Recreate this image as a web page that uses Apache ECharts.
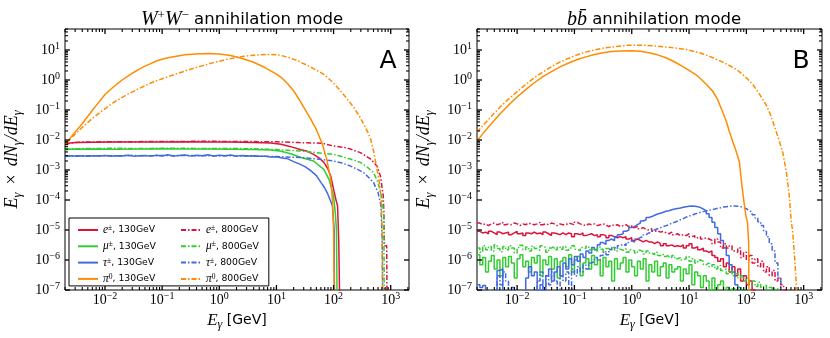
<!DOCTYPE html>
<html><head><meta charset="utf-8">
<script src="https://cdn.jsdelivr.net/npm/echarts@6/dist/echarts.min.js"></script>
<style>html,body{margin:0;padding:0;background:#fff}#c{width:830px;height:338px}</style>
</head><body><div id="c"></div>
<script>
// ---------------- DATA ----------------
// tick exponents (labels are 10^n)
const xTickExps = [-2, -1, 0, 1, 2, 3];
const yTickExps = [-7, -6, -5, -4, -3, -2, -1, 0, 1];

// Panel A: W+W- mode, points [log10(E/GeV), E dN/dE]
const wwE130 = [[-2.70,7.0e-3],[-2.62,7.9e-3],[-2.50,8.3e-3],[-2.2,8.4e-3],[-1.8,8.5e-3],[-1.4,8.6e-3],[-1.0,8.5e-3],[-0.6,8.7e-3],[-0.2,8.6e-3],[0.2,8.6e-3],[0.6,8.3e-3],[0.9,7.9e-3],[1.08,7.2e-3],[1.25,6.0e-3],[1.43,4.7e-3],[1.54,4.2e-3],[1.65,3.3e-3],[1.75,2.5e-3],[1.83,1.8e-3],[1.90,1.1e-3],[1.95,6.3e-4],[2.00,2.3e-4],[2.04,1.05e-4],[2.07,6.3e-5],[2.09,4.9e-6],[2.12,4.9e-6],[2.12,1e-9]];
const wwMu130 = [[-2.70,4.6e-3],[-2.62,4.9e-3],[-2.2,5.0e-3],[-1.8,4.9e-3],[-1.4,5.0e-3],[-1.0,5.1e-3],[-0.6,5.0e-3],[-0.2,5.0e-3],[0.2,4.9e-3],[0.6,4.8e-3],[0.9,4.6e-3],[1.08,4.2e-3],[1.25,3.5e-3],[1.43,2.6e-3],[1.65,2.0e-3],[1.83,1.05e-3],[1.92,4.9e-4],[2.00,1.35e-4],[2.03,3.8e-5],[2.05,1.05e-5],[2.07,1.05e-5],[2.07,1e-9]];
const wwTau130 = [[-2.70,2.8e-3],[-2.6,3.0e-3],[-2.5,2.9e-3],[-2.4,3.0e-3],[-2.3,2.9e-3],[-2.2,3.0e-3],[-2.1,2.95e-3],[-2.0,3.05e-3],[-1.9,2.9e-3],[-1.8,3.0e-3],[-1.7,2.95e-3],[-1.6,3.1e-3],[-1.5,2.9e-3],[-1.4,3.0e-3],[-1.3,3.05e-3],[-1.2,2.9e-3],[-1.1,3.1e-3],[-1.0,2.95e-3],[-0.9,3.2e-3],[-0.8,2.9e-3],[-0.7,3.05e-3],[-0.6,3.15e-3],[-0.5,2.9e-3],[-0.4,3.1e-3],[-0.3,3.0e-3],[-0.2,3.2e-3],[-0.1,2.95e-3],[0.0,3.1e-3],[0.1,3.0e-3],[0.2,3.15e-3],[0.3,2.9e-3],[0.4,3.05e-3],[0.5,2.95e-3],[0.6,3.0e-3],[0.7,2.85e-3],[0.8,2.9e-3],[0.9,2.7e-3],[1.0,2.75e-3],[1.1,2.5e-3],[1.2,2.35e-3],[1.3,1.9e-3],[1.4,1.6e-3],[1.5,1.3e-3],[1.6,9.5e-4],[1.7,6.5e-4],[1.78,3.8e-4],[1.84,2.6e-4],[1.89,1.74e-4],[1.94,1.0e-4],[1.98,6.3e-5],[2.01,1.05e-5],[2.02,1.05e-5],[2.02,1e-9]];
const wwPi130 = [[-2.70,7.0e-3],[-2.55,1.6e-2],[-2.40,3.5e-2],[-2.30,6.2e-2],[-2.20,0.11],[-2.10,0.19],[-2.00,0.33],[-1.90,0.49],[-1.80,0.71],[-1.70,1.0],[-1.60,1.35],[-1.50,1.78],[-1.40,2.3],[-1.30,2.9],[-1.20,3.5],[-1.10,4.3],[-1.00,4.9],[-0.90,5.5],[-0.80,6.0],[-0.60,6.9],[-0.40,7.4],[-0.20,7.6],[0.00,7.3],[0.20,6.6],[0.40,5.2],[0.60,3.9],[0.80,2.6],[1.00,1.58],[1.10,1.15],[1.20,0.74],[1.30,0.44],[1.40,0.22],[1.50,0.105],[1.60,5.0e-2],[1.70,2.2e-2],[1.80,7.6e-3],[1.88,2.3e-3],[1.95,4.9e-4],[1.98,1.0e-4],[2.00,1.0e-5],[2.02,1.0e-5],[2.02,1e-9]];
const wwE800 = [[-2.70,7.0e-3],[-2.60,8.0e-3],[-2.4,8.5e-3],[-2.0,8.7e-3],[-1.5,8.8e-3],[-1.0,8.9e-3],[-0.5,9.0e-3],[0,9.0e-3],[0.5,8.9e-3],[1.0,8.7e-3],[1.4,8.2e-3],[1.8,7.8e-3],[2.0,6.3e-3],[2.24,5.4e-3],[2.47,3.8e-3],[2.65,2.3e-3],[2.76,1.35e-3],[2.82,6.3e-4],[2.87,1.35e-4],[2.88,3.8e-5],[2.89,3.0e-6],[2.93,3.0e-6],[2.94,1e-9]];
const wwMu800 = [[-2.70,4.8e-3],[-2.62,5.1e-3],[-2.2,5.2e-3],[-1.8,5.3e-3],[-1.4,5.2e-3],[-1.0,5.3e-3],[-0.6,5.3e-3],[-0.2,5.2e-3],[0.2,5.2e-3],[0.6,5.1e-3],[1.0,4.8e-3],[1.43,4.3e-3],[1.7,3.8e-3],[2.0,3.3e-3],[2.24,2.5e-3],[2.47,1.8e-3],[2.60,1.2e-3],[2.70,8.1e-4],[2.78,3.8e-4],[2.85,1.05e-4],[2.88,2.95e-5],[2.89,2.95e-5],[2.89,1e-9]];
const wwTau800 = [[-2.70,2.8e-3],[-2.6,2.95e-3],[-2.4,3.0e-3],[-2.2,2.95e-3],[-2.0,3.0e-3],[-1.8,2.95e-3],[-1.6,3.05e-3],[-1.4,3.0e-3],[-1.2,3.0e-3],[-1.0,3.05e-3],[-0.8,3.0e-3],[-0.6,3.05e-3],[-0.4,3.0e-3],[-0.2,3.0e-3],[0.0,3.0e-3],[0.3,2.95e-3],[0.6,2.9e-3],[1.0,2.8e-3],[1.43,2.6e-3],[1.7,2.35e-3],[2.0,2.0e-3],[2.15,1.7e-3],[2.3,1.35e-3],[2.42,1.05e-3],[2.53,8.1e-4],[2.62,5.5e-4],[2.70,3.8e-4],[2.78,1.74e-4],[2.83,6.3e-5],[2.85,4.9e-6],[2.87,4.9e-6],[2.87,1e-9]];
const wwPi800 = [[-2.70,7.0e-3],[-2.55,1.4e-2],[-2.41,2.5e-2],[-2.25,4.7e-2],[-2.06,9.1e-2],[-1.85,0.178],[-1.63,0.316],[-1.40,0.525],[-1.19,0.81],[-1.00,1.1],[-0.76,1.58],[-0.55,2.14],[-0.32,2.9],[-0.10,3.8],[0.12,4.8],[0.40,6.1],[0.60,6.7],[0.84,7.2],[1.05,6.8],[1.20,5.75],[1.37,4.4],[1.60,2.7],[1.83,1.55],[2.00,0.79],[2.12,0.44],[2.24,0.23],[2.36,0.117],[2.45,6.3e-2],[2.53,3.3e-2],[2.60,1.8e-2],[2.65,1.05e-2],[2.70,4.3e-3],[2.76,1.05e-3],[2.80,4.0e-4],[2.83,1.26e-4],[2.85,1.0e-5],[2.86,1.0e-5],[2.86,1e-9]];

// Panel B: b b-bar mode, smooth pi0 curves [log10(E/GeV), E dN/dE]
const bbPi130 = [[-2.70,9.3e-3],[-2.60,1.6e-2],[-2.50,2.7e-2],[-2.40,4.5e-2],[-2.28,8.1e-2],[-2.15,0.145],[-2.00,0.27],[-1.85,0.48],[-1.70,0.81],[-1.55,1.29],[-1.40,1.9],[-1.25,2.75],[-1.11,3.6],[-0.95,4.8],[-0.80,5.9],[-0.65,7.1],[-0.50,8.1],[-0.35,8.9],[-0.20,9.3],[0.00,9.4],[0.15,9.1],[0.30,8.1],[0.45,6.9],[0.60,5.5],[0.76,3.9],[0.90,2.75],[1.00,2.1],[1.11,1.55],[1.20,1.1],[1.30,0.72],[1.41,0.43],[1.50,0.22],[1.58,9.3e-2],[1.65,4.2e-2],[1.70,2.0e-2],[1.76,9.3e-3],[1.82,4.3e-3],[1.88,1.8e-3],[1.91,4.9e-4],[1.96,8.1e-5],[1.99,3.2e-5],[2.02,1.8e-5],[2.04,3.8e-6],[2.05,3.8e-6],[2.05,1e-9]];
const bbPi800 = [[-2.70,1.8e-2],[-2.60,3.0e-2],[-2.50,4.8e-2],[-2.40,7.8e-2],[-2.28,0.135],[-2.15,0.23],[-2.00,0.41],[-1.85,0.71],[-1.70,1.2],[-1.55,1.86],[-1.40,2.75],[-1.25,4.0],[-1.11,5.2],[-0.95,6.9],[-0.80,8.5],[-0.65,10],[-0.50,11.5],[-0.30,12.9],[-0.06,14.3],[0.20,14.5],[0.41,13.6],[0.70,12],[0.94,10.5],[1.20,7.9],[1.41,5.6],[1.62,3.7],[1.82,2.3],[1.97,1.35],[2.11,0.72],[2.22,0.36],[2.34,0.155],[2.42,7.1e-2],[2.50,2.5e-2],[2.57,1.0e-2],[2.64,3.5e-3],[2.70,8.1e-4],[2.75,1.35e-4],[2.78,2.3e-5],[2.81,8.1e-6],[2.84,1.35e-6],[2.87,1.8e-7],[2.88,1.8e-7],[2.88,1e-9]];

// Panel B histograms: bins of 0.05 decade starting at log10(E) = -2.70
const binStartB = -2.70, binWidthB = 0.05;
const bbE800 = [
 1.7e-5,1.5e-5,1.6e-5,1.4e-5,1.6e-5,1.7e-5,1.5e-5,1.6e-5,1.8e-5,1.5e-5,
 1.6e-5,1.5e-5,1.7e-5,1.6e-5,1.4e-5,1.6e-5,1.5e-5,1.7e-5,1.6e-5,1.5e-5,
 1.6e-5,1.8e-5,1.5e-5,1.6e-5,1.5e-5,1.7e-5,1.6e-5,1.4e-5,1.6e-5,1.5e-5,
 1.5e-5,1.7e-5,1.6e-5,1.5e-5,1.8e-5,1.6e-5,1.5e-5,1.4e-5,1.6e-5,1.5e-5,
 1.6e-5,1.4e-5,1.5e-5,1.6e-5,1.5e-5,1.3e-5,1.5e-5,1.4e-5,1.5e-5,1.3e-5,
 1.4e-5,1.5e-5,1.3e-5,1.4e-5,1.2e-5,1.3e-5,1.1e-5,1.2e-5,1.05e-5,1.0e-5,
 1.1e-5,9.0e-6,9.5e-6,8.5e-6,9.0e-6,8.0e-6,7.5e-6,8.5e-6,7.0e-6,7.5e-6,
 6.5e-6,7.0e-6,6.5e-6,7.5e-6,6.0e-6,6.5e-6,5.5e-6,6.0e-6,5.0e-6,5.5e-6,
 5.0e-6,4.5e-6,3.5e-6,5.0e-6,4.0e-6,2.5e-6,3.5e-6,2.5e-6,3.0e-6,2.0e-6,
 1.8e-6,2.5e-6,1.2e-6,1.8e-6,1.0e-6,1.4e-6,8.0e-7,1.1e-6,6.0e-7,9.0e-7,
 4.0e-7,6.0e-7,3.0e-7,4.5e-7,2.0e-7,2.5e-7,1.5e-7,1.0e-7];
const bbE130 = [
 9.0e-6,8.0e-6,8.5e-6,7.5e-6,9.0e-6,8.0e-6,7.0e-6,8.5e-6,7.5e-6,8.0e-6,
 8.5e-6,7.0e-6,8.0e-6,9.0e-6,7.5e-6,8.0e-6,6.5e-6,8.0e-6,7.5e-6,8.5e-6,
 7.5e-6,8.0e-6,7.0e-6,8.5e-6,7.5e-6,6.5e-6,8.0e-6,7.5e-6,7.0e-6,8.0e-6,
 7.0e-6,8.0e-6,7.5e-6,6.0e-6,7.5e-6,7.0e-6,8.0e-6,6.5e-6,7.0e-6,7.5e-6,
 6.5e-6,7.0e-6,6.0e-6,7.0e-6,6.5e-6,5.5e-6,6.5e-6,6.0e-6,5.5e-6,6.0e-6,
 5.5e-6,6.0e-6,5.0e-6,5.5e-6,4.5e-6,5.0e-6,4.5e-6,4.0e-6,4.5e-6,4.0e-6,
 4.0e-6,3.5e-6,4.0e-6,3.5e-6,3.0e-6,3.5e-6,3.0e-6,3.2e-6,2.8e-6,3.0e-6,
 2.8e-6,3.2e-6,2.5e-6,3.0e-6,3.5e-6,2.5e-6,2.8e-6,2.2e-6,2.5e-6,2.0e-6,
 1.8e-6,2.0e-6,1.4e-6,1.2e-6,9.0e-7,1.1e-6,6.0e-7,8.0e-7,4.0e-7,6.0e-7,
 3.0e-7,5.0e-7,2.0e-7,3.0e-7,1.5e-7,2.0e-7,1.0e-7];
const bbMu800 = [
 2.5e-6,1.8e-6,3.0e-6,2.2e-6,2.8e-6,2.0e-6,3.2e-6,2.4e-6,1.9e-6,2.8e-6,
 2.2e-6,3.0e-6,2.5e-6,1.7e-6,2.6e-6,3.1e-6,2.2e-6,2.7e-6,2.0e-6,2.9e-6,
 2.4e-6,2.1e-6,3.0e-6,2.6e-6,1.8e-6,2.5e-6,2.9e-6,2.2e-6,2.7e-6,2.3e-6,
 2.8e-6,2.1e-6,2.5e-6,3.0e-6,2.3e-6,2.0e-6,2.6e-6,2.4e-6,2.9e-6,2.2e-6,
 2.5e-6,2.0e-6,2.7e-6,2.3e-6,1.9e-6,2.4e-6,2.1e-6,2.6e-6,2.0e-6,2.3e-6,
 2.1e-6,2.4e-6,1.8e-6,2.2e-6,2.0e-6,1.7e-6,2.1e-6,1.9e-6,1.6e-6,2.0e-6,
 1.7e-6,1.5e-6,1.8e-6,1.4e-6,1.6e-6,1.3e-6,1.5e-6,1.2e-6,1.4e-6,1.1e-6,
 1.2e-6,1.0e-6,1.1e-6,1.3e-6,9.0e-7,1.1e-6,8.0e-7,1.0e-6,9.0e-7,7.0e-7,
 8.0e-7,6.0e-7,7.0e-7,5.0e-7,6.5e-7,4.5e-7,5.0e-7,3.5e-7,4.5e-7,3.0e-7,
 3.5e-7,2.5e-7,3.0e-7,2.0e-7,2.5e-7,1.5e-7,2.0e-7,1.3e-7,1.8e-7,1.2e-7,
 1.4e-7,1.0e-7,1.2e-7,8.0e-8,1.1e-7];
const bbMu130 = [
 1.5e-6,7.0e-7,1.2e-6,4.0e-7,9.0e-7,1.4e-6,5.0e-7,1.0e-6,3.0e-7,1.2e-6,
 6.0e-7,1.3e-6,8.0e-7,2.5e-7,1.1e-6,1.5e-6,6.0e-7,9.0e-7,4.0e-7,1.2e-6,
 8.0e-7,1.4e-6,3.0e-7,1.0e-6,7.0e-7,1.3e-6,5.0e-7,1.1e-6,2.5e-7,9.0e-7,
 1.2e-6,6.0e-7,1.5e-6,4.0e-7,1.0e-6,1.3e-6,3.0e-7,8.0e-7,1.1e-6,5.0e-7,
 1.4e-6,7.0e-7,1.0e-6,3.0e-7,1.2e-6,6.0e-7,9.0e-7,2.0e-7,1.1e-6,5.0e-7,
 8.0e-7,1.2e-6,4.0e-7,1.0e-6,6.0e-7,3.0e-7,9.0e-7,5.0e-7,1.1e-6,2.0e-7,
 7.0e-7,4.0e-7,9.0e-7,3.0e-7,6.0e-7,8.0e-7,2.5e-7,7.0e-7,4.0e-7,5.0e-7,
 6.0e-7,2.0e-7,5.0e-7,3.5e-7,7.0e-7,1.5e-7,4.0e-7,3.0e-7,1.2e-7,3.0e-7,
 2.0e-7,1.0e-7,2.5e-7,8.0e-8,1.5e-7,2.0e-7,9.0e-8,1.2e-7,7.0e-8,1.1e-7,
 8.0e-8,1.2e-7,6.0e-8,1.0e-7,5.0e-8];
const bbTau130 = [
 1.5e-7,1.2e-7,1.4e-7,1e-9,1e-9,1e-9,1e-9,4.5e-7,5.0e-7,1e-9,
 1e-9,1e-9,1.2e-7,1e-9,1e-9,1e-9,1e-9,2.5e-7,6.0e-7,3.0e-7,
 4.0e-7,1e-9,1.5e-7,1e-9,3.0e-7,5.0e-7,2.0e-7,4.0e-7,6.0e-7,3.0e-7,
 8.0e-7,5.0e-7,1.1e-6,7.0e-7,1.3e-6,9.0e-7,1.6e-6,1.2e-6,2.0e-6,1.7e-6,
 2.6e-6,2.2e-6,3.2e-6,3.8e-6,3.3e-6,4.5e-6,5.0e-6,4.4e-6,6.0e-6,7.0e-6,
 7.5e-6,9.0e-6,1.0e-5,1.2e-5,1.3e-5,1.5e-5,1.7e-5,2.0e-5,2.2e-5,2.6e-5,
 2.8e-5,3.1e-5,3.4e-5,3.6e-5,3.9e-5,4.2e-5,4.4e-5,4.7e-5,5.0e-5,5.2e-5,
 5.4e-5,5.7e-5,6.0e-5,6.2e-5,6.3e-5,6.2e-5,6.0e-5,5.6e-5,5.0e-5,4.4e-5,
 3.5e-5,2.6e-5,1.8e-5,1.2e-5,7.5e-6,4.5e-6,2.5e-6,1.4e-6,7.0e-7,4.0e-7,
 1.5e-7,1e-9];
const bbTau800 = [
 1e-9,1e-9,1e-9,1e-9,1e-9,1e-9,1e-9,3.0e-7,1.5e-7,4.0e-7,
 2.0e-7,1e-9,1e-9,1e-9,1e-9,1e-9,1e-9,1e-9,1e-9,1e-9,
 1e-9,2.0e-7,4.0e-7,1e-9,3.0e-7,1.5e-7,4.0e-7,2.0e-7,1e-9,3.0e-7,
 2.0e-7,4.0e-7,1e-9,5.0e-7,3.0e-7,6.0e-7,4.0e-7,7.0e-7,5.0e-7,8.0e-7,
 9.0e-7,1.2e-6,1.0e-6,1.4e-6,1.8e-6,1.5e-6,2.2e-6,2.6e-6,2.3e-6,3.0e-6,
 3.4e-6,3.0e-6,3.8e-6,4.4e-6,4.0e-6,5.0e-6,5.6e-6,6.0e-6,7.0e-6,8.0e-6,
 8.5e-6,1.0e-5,1.1e-5,1.2e-5,1.3e-5,1.4e-5,1.5e-5,1.7e-5,1.8e-5,2.0e-5,
 2.2e-5,2.4e-5,2.7e-5,2.9e-5,3.1e-5,3.4e-5,3.6e-5,3.9e-5,4.1e-5,4.3e-5,
 4.5e-5,4.8e-5,5.0e-5,5.3e-5,5.5e-5,5.8e-5,6.0e-5,6.1e-5,6.3e-5,6.3e-5,
 6.2e-5,6.0e-5,5.6e-5,5.1e-5,4.5e-5,3.9e-5,3.2e-5,2.5e-5,1.9e-5,1.4e-5,
 9.0e-6,6.0e-6,3.5e-6,2.0e-6,8.0e-7,2.5e-7];

// ---------------- RENDER ----------------
const XMIN = -2.70, XMAX = 3.32, YMIN = -7, YMAX = 1.7;
const SERIF = "'Liberation Serif','DejaVu Serif',serif";
const SANS = "'DejaVu Sans','Liberation Sans',sans-serif";
const COLORS = {e:'#DC143C', mu:'#32CD32', tau:'#4169E1', pi:'#FF8C00'};
const DASH = [5, 2, 1.5, 2];

function minorList(lo, hi) {
  const out = [];
  for (let n = -4; n <= 3; n++) for (let k = 2; k <= 9; k++) {
    const v = n + Math.log10(k);
    if (v > lo && v < hi) out.push(v);
  }
  return out;
}
const X_MINOR = minorList(XMIN, XMAX), Y_MINOR = minorList(YMIN, YMAX);

// tick marks drawn as small rect symbols placed through the axes' scales
function tickSeries(gi, data, size, offset) {
  return {type: 'scatter', xAxisIndex: gi, yAxisIndex: gi, data: data, symbol: 'rect',
    symbolSize: size, symbolOffset: offset, itemStyle: {color: '#000', opacity: 1},
    silent: true, clip: false, animation: false, z: 6};
}
function ticksFor(gi) {
  const MJ = 5, MN = 3, WJ = 1.3, WN = 1.1;
  return [
    tickSeries(gi, xTickExps.map(v => [v, YMIN]), [WJ, MJ], [0, -MJ / 2]),
    tickSeries(gi, xTickExps.map(v => [v, YMAX]), [WJ, MJ], [0, MJ / 2]),
    tickSeries(gi, X_MINOR.map(v => [v, YMIN]), [WN, MN], [0, -MN / 2]),
    tickSeries(gi, X_MINOR.map(v => [v, YMAX]), [WN, MN], [0, MN / 2]),
    tickSeries(gi, yTickExps.map(v => [XMIN, v]), [MJ, WJ], [MJ / 2, 0]),
    tickSeries(gi, yTickExps.map(v => [XMAX, v]), [MJ, WJ], [-MJ / 2, 0]),
    tickSeries(gi, Y_MINOR.map(v => [XMIN, v]), [MN, WN], [MN / 2, 0]),
    tickSeries(gi, Y_MINOR.map(v => [XMAX, v]), [MN, WN], [-MN / 2, 0])
  ];
}

const TICK_RICH = {
  b: {fontFamily: SERIF, fontSize: 14, lineHeight: 18, color: '#000'},
  s: {fontFamily: SERIF, fontSize: 10, lineHeight: 9, verticalAlign: 'top', color: '#000'}
};
function powFmt(v) {
  const n = Math.round(v);
  return '{b|10}{s|' + (n < 0 ? '\u2212' + (-n) : n) + '}';
}
const XNAME_RICH = {
  i: {fontFamily: SERIF, fontStyle: 'italic', fontSize: 17, lineHeight: 20, color: '#000'},
  sub: {fontFamily: SERIF, fontStyle: 'italic', fontSize: 12, lineHeight: 11, verticalAlign: 'bottom', color: '#000'},
  t: {fontFamily: SANS, fontSize: 14, lineHeight: 20, color: '#000'}
};
const YNAME_RICH = {
  i: {fontFamily: SERIF, fontStyle: 'italic', fontSize: 18, lineHeight: 23, color: '#000'},
  n: {fontFamily: SERIF, fontSize: 18, lineHeight: 23, color: '#000'},
  sub: {fontFamily: SERIF, fontStyle: 'italic', fontSize: 12.5, lineHeight: 12, verticalAlign: 'bottom', color: '#000'}
};

function makeX(gi) {
  return {gridIndex: gi, type: 'value', min: XMIN, max: XMAX, position: 'bottom', splitLine: {show: false},
    axisLine: {show: false, onZero: false}, axisTick: {show: false},
    axisLabel: {customValues: xTickExps, formatter: powFmt, margin: 1, rich: TICK_RICH},
    name: '{i|E}{sub|\u03b3}{t| [GeV]}', nameLocation: 'middle', nameGap: 18, nameTextStyle: {rich: XNAME_RICH}};
}
function makeY(gi) {
  return {gridIndex: gi, type: 'value', min: YMIN, max: YMAX, position: 'left', splitLine: {show: false},
    axisLine: {show: false, onZero: false}, axisTick: {show: false},
    axisLabel: {customValues: yTickExps, formatter: powFmt, margin: 5, rich: TICK_RICH},
    name: '{i|E}{sub|\u03b3}{n|\u2009\u00a0\u00d7\u00a0\u2009}{i|dN}{sub|\u03b3}{i|/dE}{sub|\u03b3}', nameLocation: 'middle', nameGap: 41,
    nameRotate: 90, nameTextStyle: {rich: YNAME_RICH}};
}

function sparse(pts) { return pts.map(p => [p[0], Math.log10(p[1])]); }
function hist(vals) {
  const pts = vals.map((v, i) => [binStartB + i * binWidthB, Math.log10(v)]);
  pts.push([binStartB + vals.length * binWidthB, -9]);
  return pts;
}
function styleOf(key) {
  const fam = key.replace(/\d+/, '');
  const is800 = key.indexOf('800') >= 0;
  return {color: COLORS[fam], type: is800 ? DASH : 'solid'};
}
function mk(key, gi, data, step) {
  const st = styleOf(key);
  return {name: key, type: 'line', xAxisIndex: gi, yAxisIndex: gi, data: data,
    step: step ? 'end' : false, showSymbol: false, symbol: 'none', silent: true, clip: true,
    color: st.color, itemStyle: {color: st.color, opacity: 0},
    lineStyle: {color: st.color, width: 1.5, type: st.type}, animation: false};
}

const series = [
  mk('e130', 0, sparse(wwE130)), mk('mu130', 0, sparse(wwMu130)), mk('tau130', 0, sparse(wwTau130)),
  mk('e800', 0, sparse(wwE800)), mk('mu800', 0, sparse(wwMu800)), mk('tau800', 0, sparse(wwTau800)),
  mk('pi130', 0, sparse(wwPi130)), mk('pi800', 0, sparse(wwPi800)),
  mk('e130', 1, hist(bbE130), true), mk('mu130', 1, hist(bbMu130), true), mk('tau130', 1, hist(bbTau130), true),
  mk('e800', 1, hist(bbE800), true), mk('mu800', 1, hist(bbMu800), true), mk('tau800', 1, hist(bbTau800), true),
  mk('pi130', 1, sparse(bbPi130)), mk('pi800', 1, sparse(bbPi800))
].concat(ticksFor(0), ticksFor(1));

const LEG_RICH = {
  m: {fontFamily: SERIF, fontStyle: 'italic', fontSize: 11.5, lineHeight: 12, color: '#000'},
  u: {fontFamily: SERIF, fontSize: 7.5, lineHeight: 7, verticalAlign: 'top', color: '#000'},
  t: {fontFamily: SANS, fontSize: 9.3, lineHeight: 12, color: '#000'}
};
const LEG_LABEL = {
  e130: '{m|e}{u|\u00b1}{t|, 130GeV}', mu130: '{m|\u03bc}{u|\u00b1}{t|, 130GeV}',
  tau130: '{m|\u03c4}{u|\u00b1}{t|, 130GeV}', pi130: '{m|\u03c0}{u|0}{t|, 130GeV}',
  e800: '{m|e}{u|\u00b1}{t|, 800GeV}', mu800: '{m|\u03bc}{u|\u00b1}{t|, 800GeV}',
  tau800: '{m|\u03c4}{u|\u00b1}{t|, 800GeV}', pi800: '{m|\u03c0}{u|0}{t|, 800GeV}'
};
const legBase = {orient: 'vertical', itemWidth: 20, itemHeight: 10, itemGap: 4.3, selectedMode: false,
  formatter: n => LEG_LABEL[n], textStyle: {rich: LEG_RICH},
  itemStyle: {opacity: 0}, inactiveColor: '#000'};

const TITLE_RICH = {
  m: {fontFamily: SERIF, fontStyle: 'italic', fontWeight: 'normal', fontSize: 20, lineHeight: 22, color: '#000'},
  u: {fontFamily: SERIF, fontWeight: 'normal', fontSize: 13, lineHeight: 12, verticalAlign: 'top', color: '#000'},
  t: {fontFamily: SANS, fontWeight: 'normal', fontSize: 16.5, lineHeight: 22, color: '#000'}
};

const option = {
  backgroundColor: '#fff',
  animation: false,
  title: [
    {text: '{m|W}{u|+}{m|W}{u|\u2212}{t| annihilation mode}', left: 237, textAlign: 'center', top: 4, textStyle: {fontWeight: 'normal', rich: TITLE_RICH}},
    {text: '{m|bb\u0304}{t| annihilation mode}', left: 649, textAlign: 'center', top: 4, textStyle: {fontWeight: 'normal', rich: TITLE_RICH}},
    {text: 'A', left: 383, textAlign: 'center', top: 44, textStyle: {fontFamily: SANS, fontSize: 25, fontWeight: 'normal', color: '#000'}},
    {text: 'B', left: 796, textAlign: 'center', top: 44, textStyle: {fontFamily: SANS, fontSize: 25, fontWeight: 'normal', color: '#000'}}
  ],
  grid: [
    {left: 65, top: 29, width: 344, height: 261, show: true, borderColor: '#000', borderWidth: 1, backgroundColor: 'transparent'},
    {left: 477, top: 29, width: 345, height: 261, show: true, borderColor: '#000', borderWidth: 1, backgroundColor: 'transparent'}
  ],
  xAxis: [makeX(0), makeX(1)],
  yAxis: [makeY(0), makeY(1)],
  legend: [
    Object.assign({}, legBase, {data: ['e130', 'mu130', 'tau130', 'pi130'], left: 69, top: 218,
      padding: [6, 113, 1, 8], borderColor: '#000', borderWidth: 1, backgroundColor: '#fff', z: 8}),
    Object.assign({}, legBase, {data: ['e800', 'mu800', 'tau800', 'pi800'], left: 180, top: 224, padding: 0, z: 9})
  ],
  series: series
};
const chart = echarts.init(document.getElementById('c'), null, {renderer: 'canvas'});
chart.setOption(option);
</script></body></html>
